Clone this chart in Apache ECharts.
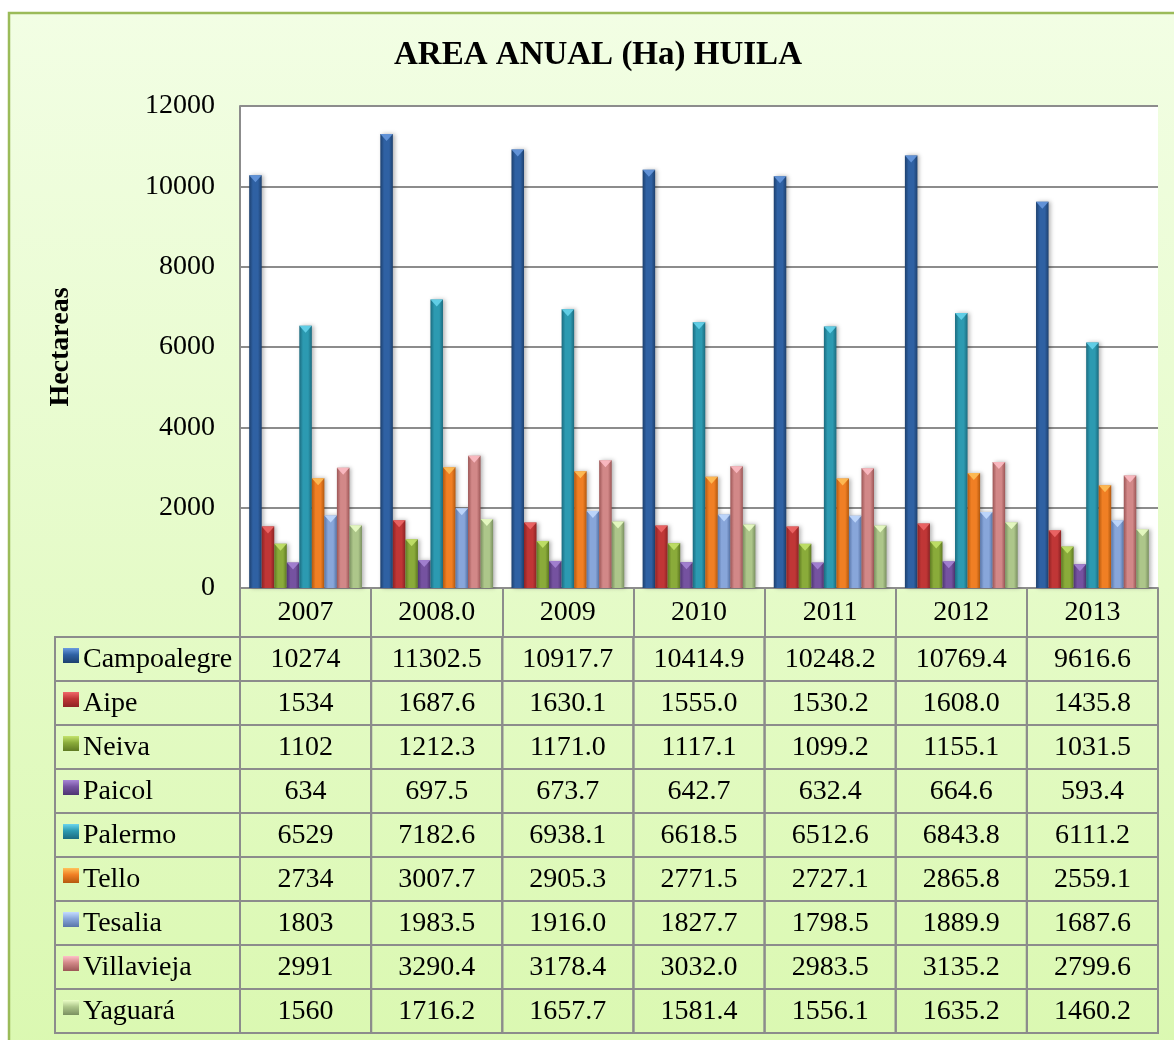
<!DOCTYPE html>
<html><head><meta charset="utf-8">
<script src="https://cdn.jsdelivr.net/npm/echarts@6/dist/echarts.min.js"></script>
<style>html,body{margin:0;padding:0;background:#fff}#c{width:1174px;height:1040px}</style>
</head><body><div id="c"></div><script>
// ---- data ----
const years = ['2007', '2008.0', '2009', '2010', '2011', '2012', '2013'];
const yearDecimals = [0, 1, 1, 1, 1, 1, 1];
const municipios = ['Campoalegre', 'Aipe', 'Neiva', 'Paicol', 'Palermo', 'Tello', 'Tesalia', 'Villavieja', 'Yaguará'];
const campoalegre = [10274, 11302.5, 10917.7, 10414.9, 10248.2, 10769.4, 9616.6];
const aipe = [1534, 1687.6, 1630.1, 1555.0, 1530.2, 1608.0, 1435.8];
const neiva = [1102, 1212.3, 1171.0, 1117.1, 1099.2, 1155.1, 1031.5];
const paicol = [634, 697.5, 673.7, 642.7, 632.4, 664.6, 593.4];
const palermo = [6529, 7182.6, 6938.1, 6618.5, 6512.6, 6843.8, 6111.2];
const tello = [2734, 3007.7, 2905.3, 2771.5, 2727.1, 2865.8, 2559.1];
const tesalia = [1803, 1983.5, 1916.0, 1827.7, 1798.5, 1889.9, 1687.6];
const villavieja = [2991, 3290.4, 3178.4, 3032.0, 2983.5, 3135.2, 2799.6];
const yaguara = [1560, 1716.2, 1657.7, 1581.4, 1556.1, 1635.2, 1460.2];
const seriesValues = [campoalegre, aipe, neiva, paicol, palermo, tello, tesalia, villavieja, yaguara];
const yMin = 0, yMax = 12000, yStep = 2000;

// ---- styles ----
const colorSets = [
  ['#1d406e', '#2f61a3', '#6a9be0'], ['#8e2324', '#c03636', '#f06a6a'], ['#5f7a22', '#8aab3a', '#c4e46c'],
  ['#4e3572', '#7552a0', '#a886d6'], ['#1b6b7f', '#2c9ab1', '#6ad6ee'], ['#b5590e', '#f07f24', '#ffc25a'],
  ['#5875a8', '#88a6da', '#c4dcff'], ['#9c5656', '#d28888', '#ffc0c8'], ['#7a9060', '#adc68a', '#ecffc8']
];
const FONT = "'Liberation Serif','Times New Roman',serif";
const BORDER = '#8c8c8c';
const TABLE_LEFT = 55;
const TXT = 28;

function barGradient(p) {
  return new echarts.graphic.LinearGradient(0, 0, 1, 0, [
    { offset: 0, color: p[0] }, { offset: 0.3, color: p[1] },
    { offset: 0.7, color: p[1] }, { offset: 1, color: p[0] }
  ]);
}

const chart = echarts.init(document.getElementById('c'), null, { renderer: 'canvas' });

const barSeries = municipios.map((name, k) => ({
  name, type: 'bar', xAxisIndex: 0, yAxisIndex: 0, z: 2,
  data: seriesValues[k],
  barGap: '0%', barCategoryGap: '14%',
  itemStyle: { color: barGradient(colorSets[k]), shadowColor: 'rgba(0,0,0,0.3)', shadowBlur: 4, shadowOffsetX: 2 }
}));
const capSeries = municipios.map((name, k) => ({
  name: name + ' cap', type: 'pictorialBar', xAxisIndex: 0, yAxisIndex: 0, z: 3, silent: true,
  data: seriesValues[k],
  barGap: '0%', barCategoryGap: '14%',
  symbol: 'triangle', symbolRotate: 180, symbolPosition: 'end', symbolSize: ['100%', 7],
  itemStyle: { color: colorSets[k][2], opacity: 0.85 }
}));

const cellData = [];
municipios.forEach((name, j) => {
  years.forEach((y, i) => cellData.push([i, j, seriesValues[j][i]]));
});

function renderCell(params, api) {
  const i = api.value(0), j = api.value(1), v = api.value(2);
  const c = api.coord([i, j]);
  const s = api.size([1, 1]);
  const x0 = c[0] - s[0] / 2, y0 = c[1] - s[1] / 2;
  const children = [
    { type: 'rect', shape: { x: x0, y: y0, width: s[0], height: s[1] }, style: { fill: 'none', stroke: BORDER, lineWidth: 2 } },
    { type: 'text', x: c[0], y: c[1] + 1, style: { text: v.toFixed(yearDecimals[i]), font: TXT + 'px ' + FONT, fill: '#000', align: 'center', verticalAlign: 'middle' } }
  ];
  if (i === 0) {
    children.push(
      { type: 'rect', shape: { x: TABLE_LEFT, y: y0, width: x0 - TABLE_LEFT, height: s[1] }, style: { fill: 'none', stroke: BORDER, lineWidth: 2 } },
      { type: 'rect', shape: { x: TABLE_LEFT + 8, y: c[1] - 11, width: 16, height: 15 },
        style: { fill: new echarts.graphic.LinearGradient(0, 0, 0, 1, [{ offset: 0, color: colorSets[j][2] }, { offset: 0.45, color: colorSets[j][1] }, { offset: 1, color: colorSets[j][0] }]) } },
      { type: 'text', x: TABLE_LEFT + 28, y: c[1] + 1, style: { text: municipios[j], font: TXT + 'px ' + FONT, fill: '#000', align: 'left', verticalAlign: 'middle' } }
    );
  }
  return { type: 'group', children };
}

chart.setOption({
  animation: false,
  graphic: [
    { type: 'rect', z: -100, silent: true, shape: { x: 9, y: 13, width: 1200, height: 1100 },
      style: { fill: new echarts.graphic.LinearGradient(0, 0, 0, 1, [{ offset: 0, color: '#f2fee4' }, { offset: 1, color: '#d9f8ae' }]), stroke: '#9bbb59', lineWidth: 2.5 } },
    { type: 'text', x: 598, y: 55, style: { text: 'AREA ANUAL (Ha) HUILA', font: 'bold 33px ' + FONT, fill: '#000', align: 'center', verticalAlign: 'middle' } },
    { type: 'text', x: 61, y: 347, rotation: Math.PI / 2, style: { text: 'Hectareas', font: 'bold 28px ' + FONT, fill: '#000', align: 'center', verticalAlign: 'middle' } }
  ],
  grid: [
    { left: 240, right: 16, top: 106, height: 482, show: true, backgroundColor: '#ffffff', borderWidth: 0 },
    { left: 240, right: 16, top: 637, height: 396, show: false }
  ],
  xAxis: [
    { type: 'category', gridIndex: 0, data: years,
      axisLine: { show: true, lineStyle: { color: BORDER, width: 2 } },
      axisTick: { show: true, length: 49, interval: 0, lineStyle: { color: BORDER, width: 2 } },
      axisLabel: { fontFamily: FONT, fontSize: TXT, color: '#000', margin: 11, interval: 0 } },
    { type: 'category', gridIndex: 1, data: years, show: false }
  ],
  yAxis: [
    { type: 'value', gridIndex: 0, min: yMin, max: yMax, interval: yStep,
      axisLine: { show: true, lineStyle: { color: BORDER, width: 2 } },
      axisTick: { show: false },
      splitLine: { lineStyle: { color: BORDER, width: 2 } },
      axisLabel: { fontFamily: FONT, fontSize: TXT, color: '#000', margin: 25, formatter: v => String(v) } },
    { type: 'category', gridIndex: 1, data: municipios, inverse: true, show: false }
  ],
  series: barSeries.concat(capSeries, [
    { type: 'custom', xAxisIndex: 1, yAxisIndex: 1, data: cellData, renderItem: renderCell, silent: true }
  ])
});
</script></body></html>
